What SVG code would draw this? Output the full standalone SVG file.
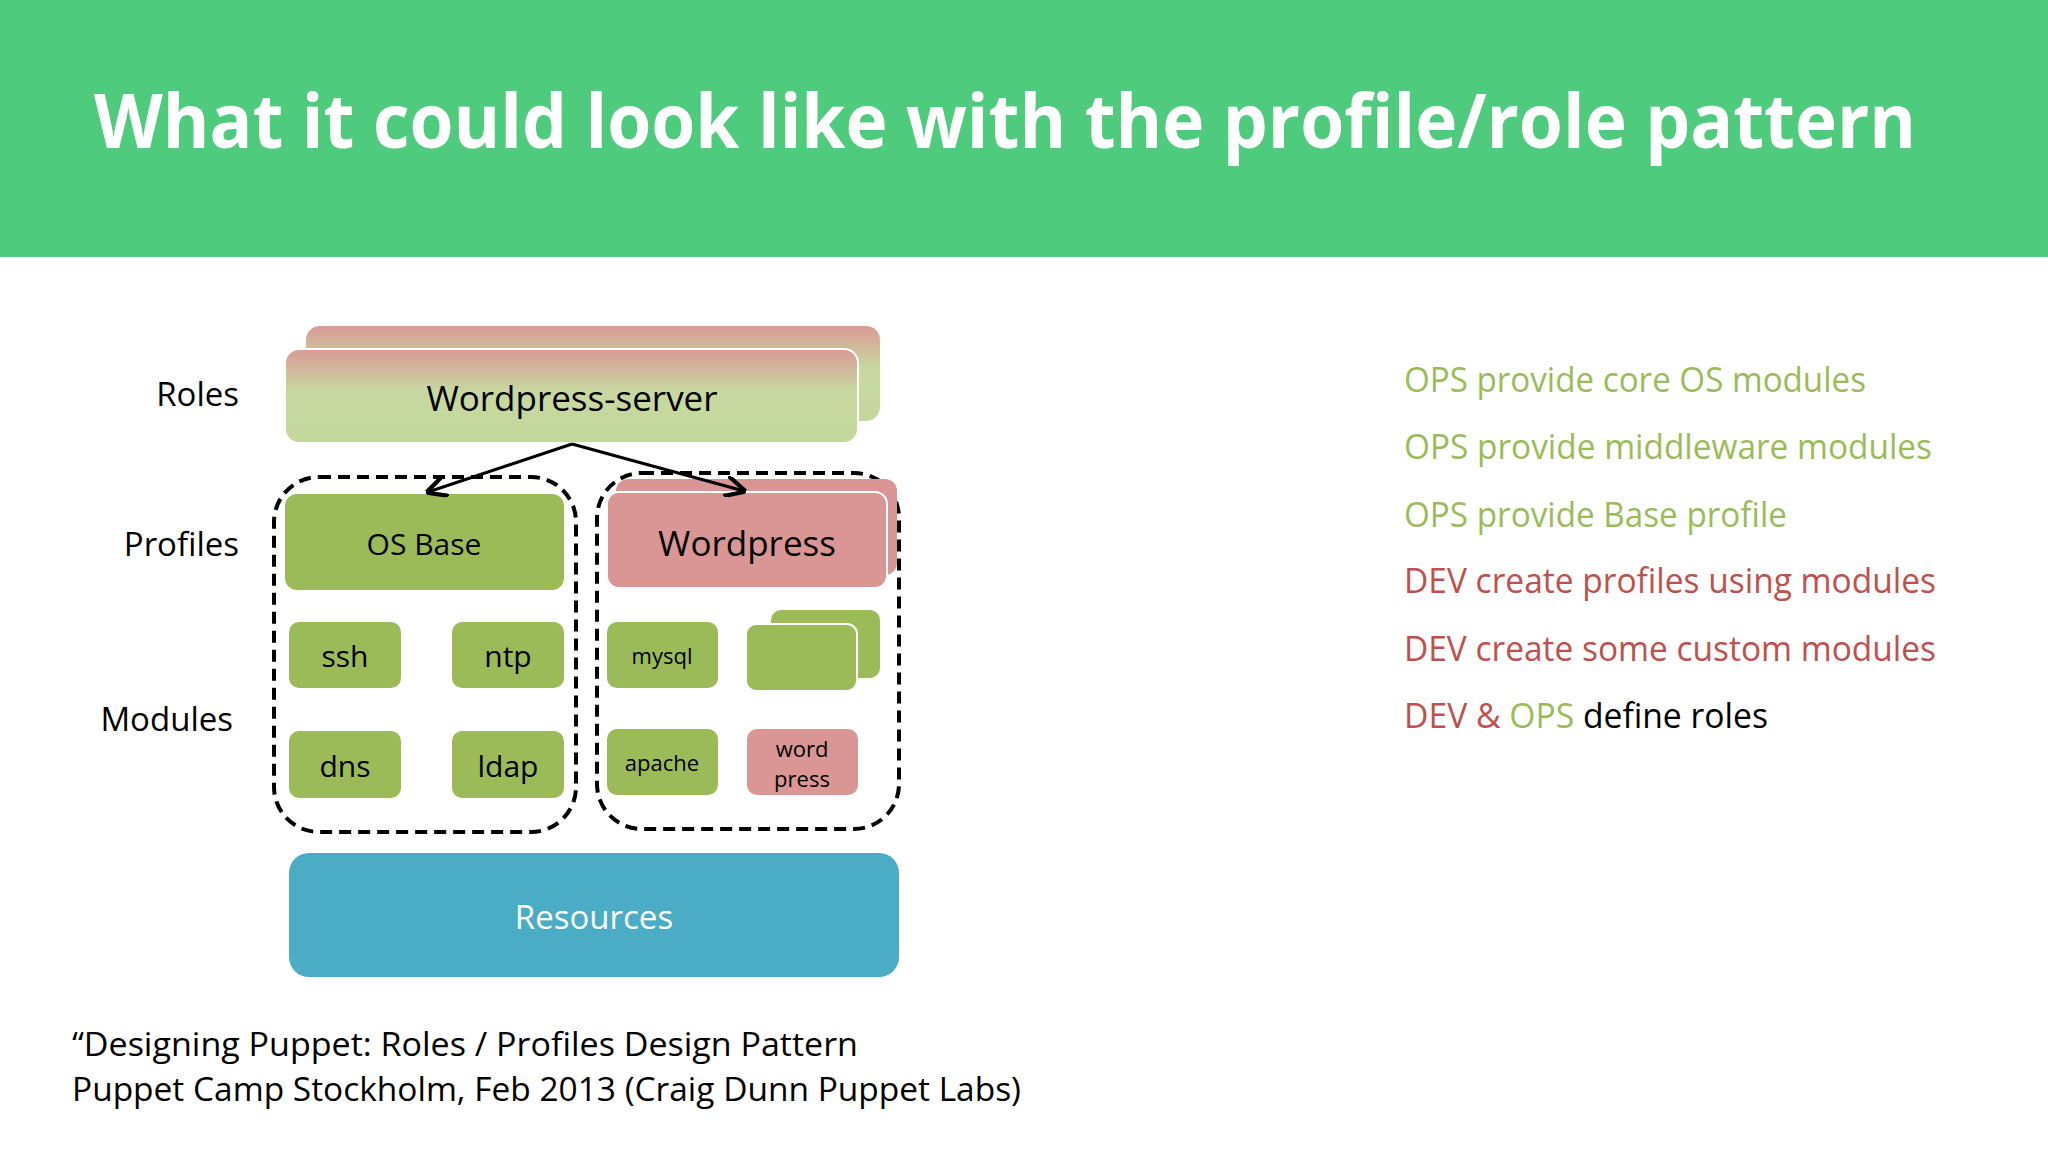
<svg xmlns="http://www.w3.org/2000/svg" width="2048" height="1155" viewBox="0 0 2048 1155">
<style>
text{font-family:"Open Sans","Noto Sans",sans-serif}
.lbl{font-size:33px;fill:#000;text-anchor:end}
.mod{fill:#9bbb59}
.c{text-anchor:middle;dominant-baseline:central}
.g{fill:#9bbb59}.r{fill:#c0504d}.k{fill:#000}
.dash{fill:none;stroke:#000;stroke-width:4;stroke-dasharray:12 7}
.side{font-size:34px}
</style>
<defs>
<linearGradient id="rg" x1="0" y1="0" x2="0" y2="1">
<stop offset="0" stop-color="#d99a96"/><stop offset="0.45" stop-color="#c7d9a0"/><stop offset="1" stop-color="#c3d89c"/>
</linearGradient>
<marker id="ah" viewBox="0 0 10 10" refX="9" refY="5" markerWidth="7" markerHeight="7" orient="auto"><path d="M0,0 L10,5 L0,10" fill="none" stroke="#000" stroke-width="2"/></marker>
</defs>
<rect width="2048" height="1155" fill="#fff"/>
<rect width="2048" height="257" fill="#4fcb7e"/>
<text x="94" y="148" font-size="76" font-weight="bold" fill="#fff" textLength="1822" lengthAdjust="spacingAndGlyphs">What it could look like with the profile/role pattern</text>
<text class="lbl" x="239" y="406">Roles</text>
<text class="lbl" x="239" y="556">Profiles</text>
<text class="lbl" x="233" y="731">Modules</text>
<g id="role">
<rect x="306" y="326" width="574" height="95" rx="14" fill="url(#rg)"/>
<rect x="285" y="349" width="573" height="94" rx="14" fill="url(#rg)" stroke="#fff" stroke-width="2"/>
<text class="c" x="572" y="397" font-size="35">Wordpress-server</text>
</g>
<g id="osbox"><rect class="dash" x="274" y="477" width="302" height="355" rx="45"/></g>
<g id="wpbox"><rect class="dash" x="597" y="473" width="302" height="356" rx="45"/></g>
<g id="osbase"><rect class="mod" x="285" y="494" width="279" height="96" rx="12"/><text class="c" x="424" y="543" font-size="30">OS Base</text></g>
<g id="wordpress">
<rect x="616" y="479" width="281" height="96" rx="12" fill="#da9694"/>
<rect x="607" y="492" width="280" height="96" rx="12" fill="#da9694" stroke="#fff" stroke-width="2"/>
<text class="c" x="747" y="542" font-size="35">Wordpress</text>
</g>
<g id="ssh"><rect class="mod" x="289" y="622" width="112" height="66" rx="10"/><text class="c" x="345" y="655" font-size="30">ssh</text></g>
<g id="ntp"><rect class="mod" x="452" y="622" width="112" height="66" rx="10"/><text class="c" x="508" y="655" font-size="30">ntp</text></g>
<g id="dns"><rect class="mod" x="289" y="731" width="112" height="67" rx="10"/><text class="c" x="345" y="765" font-size="30">dns</text></g>
<g id="ldap"><rect class="mod" x="452" y="731" width="112" height="67" rx="10"/><text class="c" x="508" y="765" font-size="30">ldap</text></g>
<g id="mysql"><rect class="mod" x="607" y="622" width="111" height="66" rx="10"/><text class="c" x="662" y="655" font-size="22">mysql</text></g>
<g id="custom">
<rect class="mod" x="771" y="610" width="109" height="68" rx="10"/>
<rect class="mod" x="746" y="624" width="111" height="67" rx="10" stroke="#fff" stroke-width="2"/>
</g>
<g id="apache"><rect class="mod" x="607" y="729" width="111" height="66" rx="10"/><text class="c" x="662" y="762" font-size="22">apache</text></g>
<g id="wpmod"><rect x="747" y="729" width="111" height="66" rx="10" fill="#da9694"/><text class="c" x="802" y="748" font-size="22">word</text><text class="c" x="802" y="778" font-size="22">press</text></g>
<g id="resources"><rect x="289" y="853" width="610" height="124" rx="20" fill="#4bacc6"/><text class="c" x="594" y="916" font-size="33" fill="#fff">Resources</text></g>
<g id="connectors" stroke="#000" stroke-width="3" fill="none">
<line x1="572" y1="444" x2="428" y2="492" marker-end="url(#ah)"/>
<line x1="572" y1="444" x2="744" y2="491" marker-end="url(#ah)"/>
</g>
<text class="side g" x="1404" y="392" textLength="462" lengthAdjust="spacingAndGlyphs">OPS provide core OS modules</text>
<text class="side g" x="1404" y="459" textLength="528" lengthAdjust="spacingAndGlyphs">OPS provide middleware modules</text>
<text class="side g" x="1404" y="527" textLength="383" lengthAdjust="spacingAndGlyphs">OPS provide Base profile</text>
<text class="side r" x="1404" y="593" textLength="532" lengthAdjust="spacingAndGlyphs">DEV create profiles using modules</text>
<text class="side r" x="1404" y="661" textLength="532" lengthAdjust="spacingAndGlyphs">DEV create some custom modules</text>
<text class="side" x="1404" y="728" textLength="364" lengthAdjust="spacingAndGlyphs"><tspan class="r">DEV &amp; </tspan><tspan class="g">OPS</tspan><tspan class="k"> define roles</tspan></text>
<text x="72" y="1056" font-size="33" textLength="786" lengthAdjust="spacingAndGlyphs">“Designing Puppet:  Roles / Profiles Design Pattern</text>
<text x="72" y="1101" font-size="33" textLength="949" lengthAdjust="spacingAndGlyphs">Puppet Camp Stockholm, Feb 2013 (Craig Dunn Puppet Labs)</text>
</svg>
